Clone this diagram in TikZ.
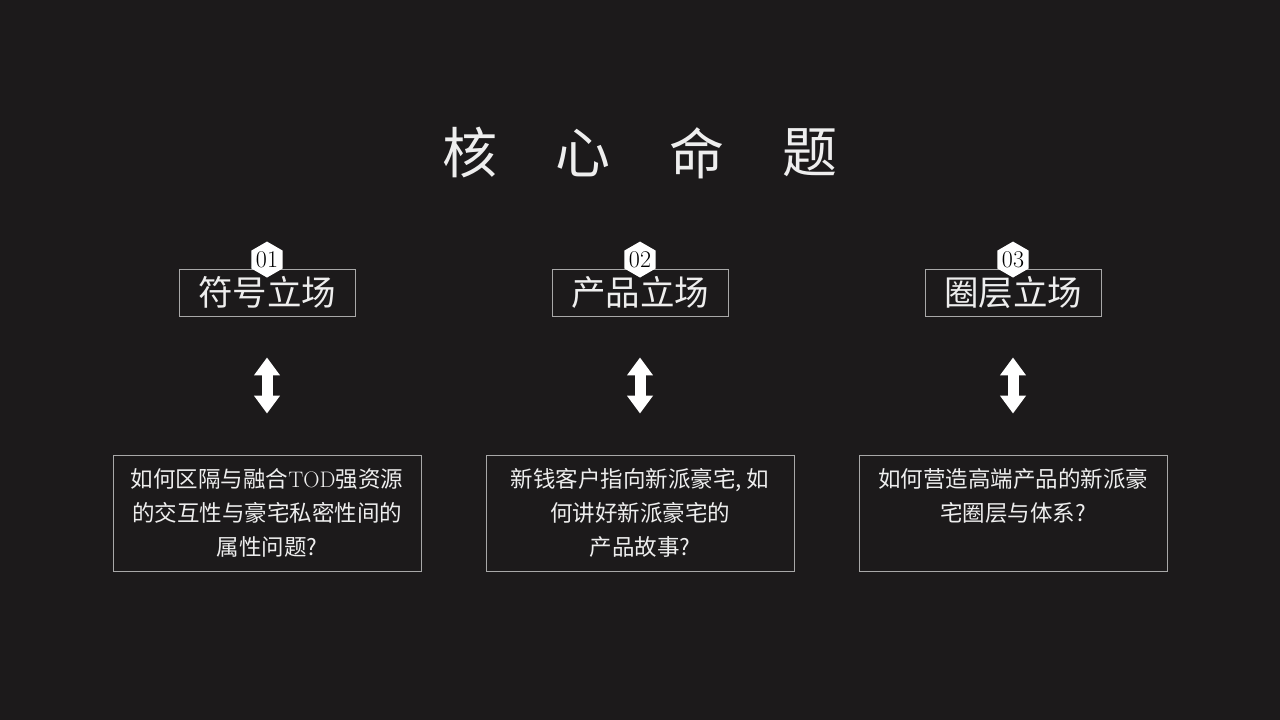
\documentclass[tikz,border=0pt]{standalone}
\usepackage{fontspec}
\newfontfamily\cjk{Noto Sans CJK SC}
\usetikzlibrary{arrows.meta,shapes.geometric,positioning}
\definecolor{bgcol}{HTML}{1C1A1B}
\definecolor{edgecol}{HTML}{A8A8A8}
\definecolor{txtcol}{HTML}{EEEEEE}
\tikzset{
	headbox/.style={draw=edgecol,line width=0.9pt,minimum width=176pt,minimum height=47pt,inner sep=0pt,text=txtcol,font=\cjk\fontsize{34.5}{36}\selectfont},
	badge/.style={regular polygon,regular polygon sides=6,shape border rotate=30,fill=white,minimum size=34pt,inner sep=0pt,text=black,font=\fontsize{24}{26}\selectfont},
	askbox/.style={draw=edgecol,line width=0.9pt,minimum width=308pt,minimum height=116pt,inner sep=0pt},
	asktext/.style={anchor=north,text=txtcol,align=center,inner sep=0pt,font=\cjk\fontsize{22.5}{34}\selectfont},
	updown/.style={draw=white,line width=11pt,{Triangle[width=25pt,length=18pt]}-{Triangle[width=25pt,length=18pt]},shorten <=41pt,shorten >=41pt}
}
\begin{document}
\begin{tikzpicture}[x=1pt,y=-1pt]
	\fill[bgcol] (0,0) rectangle (1280,720);
	\useasboundingbox (0,0) rectangle (1280,720);
	% title
	\foreach \c/\x in {核/470,心/583,命/697,题/810}
		\node[text=txtcol,font=\cjk\fontsize{55}{60}\selectfont] (t\x) at (\x,153) {\c};
	% three positions
	\node[headbox] (h1) at (267,292.5) {符号立场};
	\node[headbox] (h2) at (640,292.5) {产品立场};
	\node[headbox] (h3) at (1013,292.5) {圈层立场};
	\node[badge] (n1) at ([yshift=9pt]h1.north) {01};
	\node[badge] (n2) at ([yshift=9pt]h2.north) {02};
	\node[badge] (n3) at ([yshift=9pt]h3.north) {03};
	% questions
	\node[askbox] (q1) at (267,513) {};
	\node[askbox] (q2) at (640,513) {};
	\node[askbox] (q3) at (1013,513) {};
	\node[asktext] (a1) at ([yshift=-14pt]q1.north) {如何区隔与融合{\rmfamily TOD}强资源\\的交互性与豪宅私密性间的\\属性问题?};
	\node[asktext] (a2) at ([yshift=-14pt]q2.north) {新钱客户指向新派豪宅, 如\\何讲好新派豪宅的\\产品故事?};
	\node[asktext] (a3) at ([yshift=-14pt]q3.north) {如何营造高端产品的新派豪\\宅圈层与体系?};
	% double arrows
	\draw[updown] (h1.south) -- (q1.north);
	\draw[updown] (h2.south) -- (q2.north);
	\draw[updown] (h3.south) -- (q3.north);
\end{tikzpicture}
\end{document}
